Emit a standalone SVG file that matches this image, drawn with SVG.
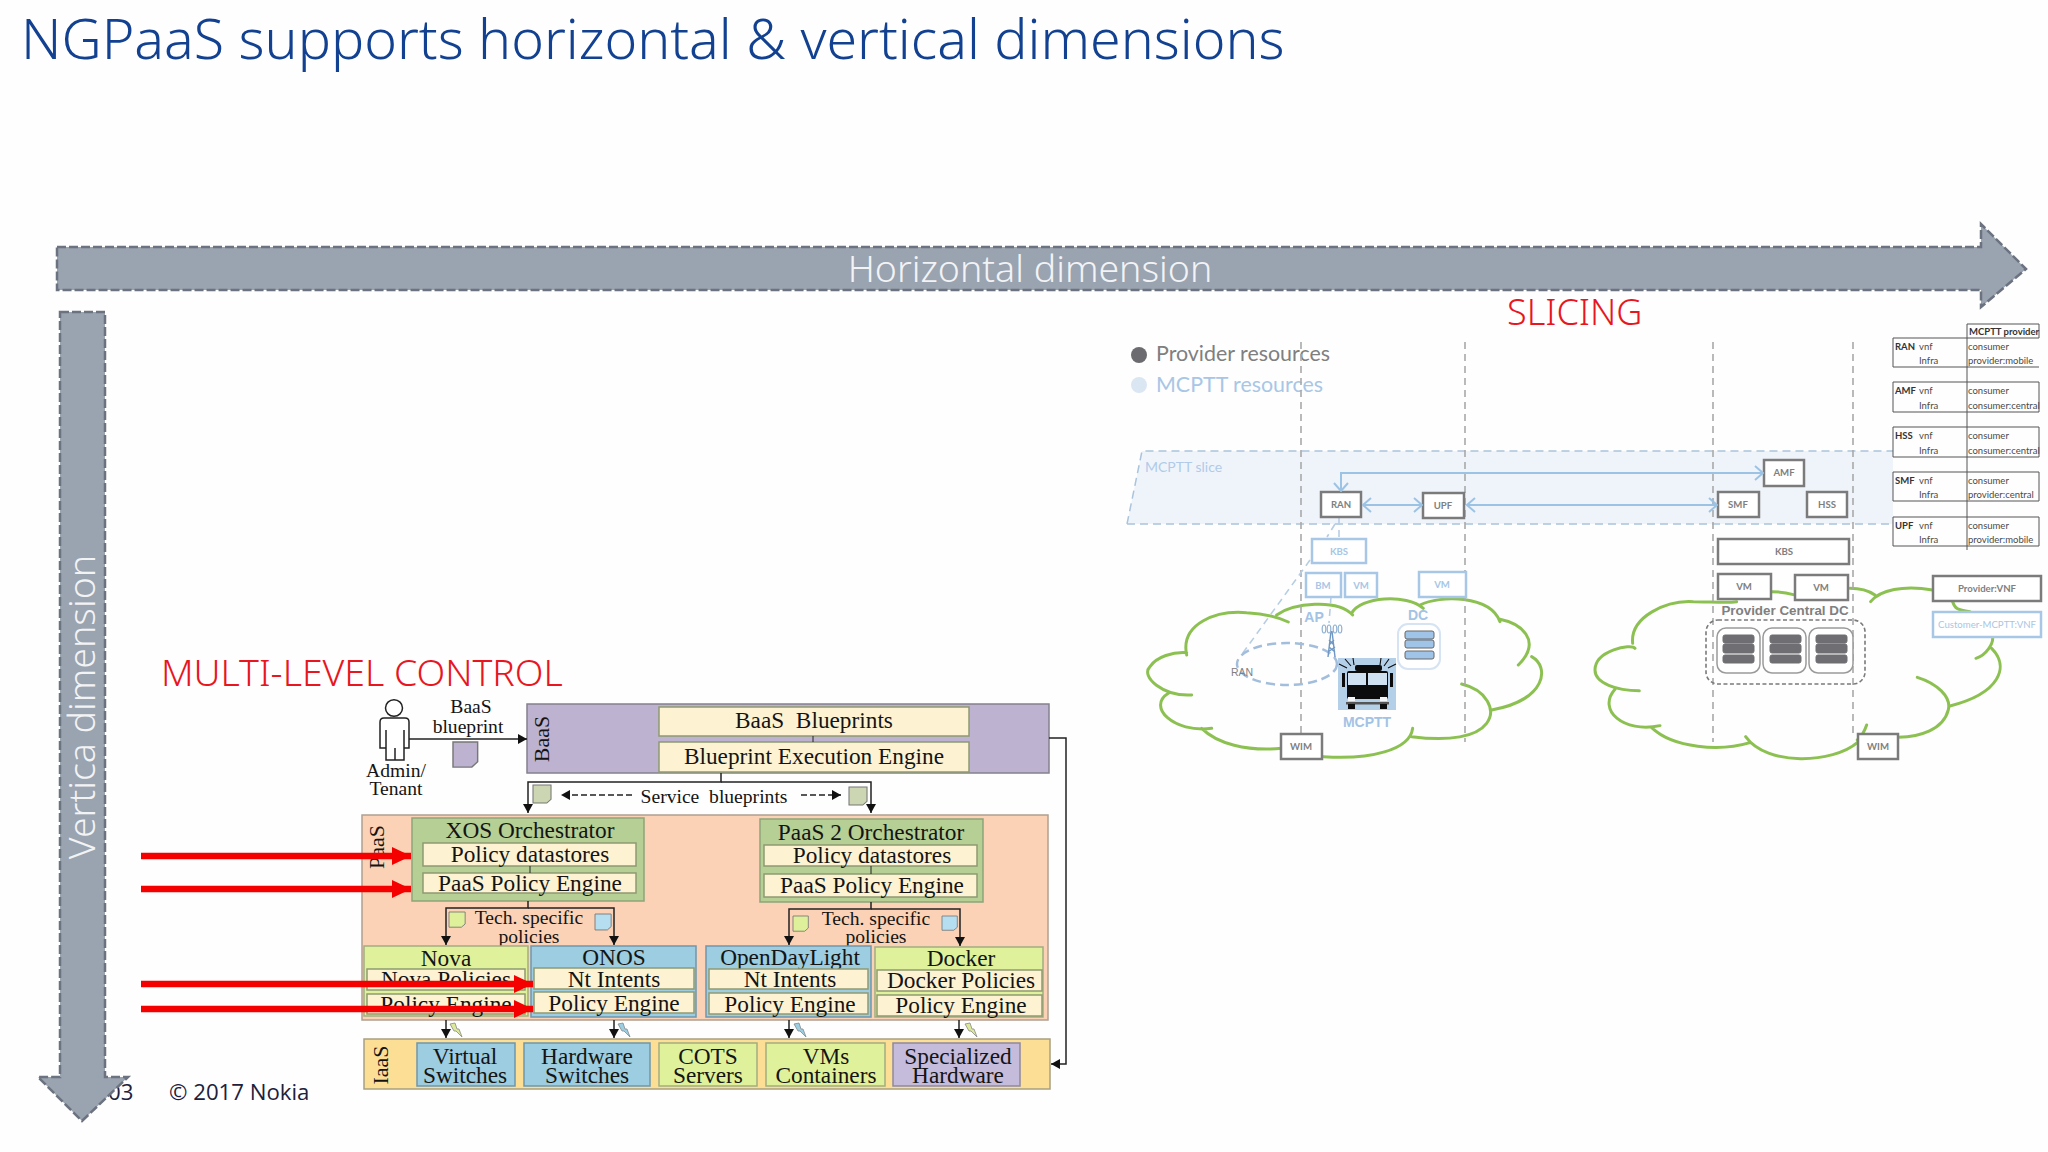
<svg xmlns="http://www.w3.org/2000/svg" width="2048" height="1152" viewBox="0 0 2048 1152">
<style>
text{white-space:pre}
.ser{font-family:"Liberation Serif","Times New Roman",serif;fill:#141414;text-anchor:middle}
.f23{font-size:23.3px}.f20{font-size:19.6px}.f22{font-size:22px}
.head{font-family:"Noto Sans","Open Sans",sans-serif;font-weight:300}
.dim{fill:#f2f3f5;font-size:37.5px;text-anchor:middle}
.red{fill:#e8161e}
.foot{font-family:"Open Sans","Noto Sans",sans-serif;font-size:22.2px;fill:#20203c}
.big{fill:#9aa3b0;stroke:#6b7280;stroke-width:2.5;stroke-dasharray:9 3}
.pur{fill:#bdb2cf;stroke:#85808f;stroke-width:1.5}
.cream{fill:#fdf3d3;stroke:#8f9a72;stroke-width:1.5}
.org{fill:#b5cf95;stroke:#8ea578;stroke-width:1.5}
.lime{fill:#dff29b;stroke:#a3ad80;stroke-width:1.5}
.blu{fill:#9ccde0;stroke:#6e96ad;stroke-width:1.5}
.vio{fill:#c5bcdc;stroke:#8d88a0;stroke-width:1.5}
.blk{fill:none;stroke:#222;stroke-width:1.5}
.doc{stroke:#777;stroke-width:1}
.gb{fill:#fff;stroke:#7b7b7b;stroke-width:2.5}
.bb{fill:#fff;stroke:#a8c7e6;stroke-width:2.5}
.gt{font-family:"Lato","Liberation Sans",sans-serif;font-weight:700;font-size:9.6px;fill:#808080;text-anchor:middle}
.bt{font-family:"Lato","Liberation Sans",sans-serif;font-weight:700;font-size:9.6px;fill:#a8c6e6;text-anchor:middle}
.lab{font-family:"Liberation Sans",Arial,sans-serif;font-weight:700;font-size:14px;text-anchor:middle}
.leg{font-family:"Lato","Liberation Sans",sans-serif;font-size:21.4px}
.tb{font-family:"Lato","Liberation Sans",sans-serif;font-size:9.5px;fill:#4a4a4a}
.tbb{font-weight:700;fill:#333}
.tl{stroke:#555;stroke-width:1;fill:none}
.guide{fill:none;stroke:#a9a9a9;stroke-width:1.6;stroke-dasharray:7 5}
.cloud{fill:none;stroke:#8cc152;stroke-width:9;stroke-linecap:round}
.ba{fill:none;stroke:#9cc3e4;stroke-width:2;marker-start:url(#op);marker-end:url(#op)}
.bar{fill:#6f6f73;stroke:#6f6f73}
.sbar{fill:#a0c4e8;stroke:#666;stroke-width:1}
</style>
<defs>
<marker id="ah" markerUnits="userSpaceOnUse" markerWidth="10" markerHeight="10" refX="9" refY="5" orient="auto"><path d="M0 0L9 5L0 10z" fill="#111"/></marker>
<marker id="op" markerUnits="userSpaceOnUse" markerWidth="12" markerHeight="16" refX="11" refY="8" orient="auto-start-reverse"><path d="M3 1L11 8L3 15" fill="none" stroke="#9cc3e4" stroke-width="2"/></marker>
<marker id="rd" markerUnits="userSpaceOnUse" markerWidth="20" markerHeight="18" refX="19" refY="9" orient="auto"><path d="M0 0L19 9L0 18z" fill="#f40000"/></marker>
<path id="doc" d="M0 0H17V15L13 19H0z"/>
<path id="bolt" d="M0 1L5 0L7 6L9 6L12 14L6 8L4 8z"/>
</defs>
<rect width="2048" height="1152" fill="#fefefe"/>

<text class="head" x="21" y="59" font-size="55.5" fill="#124191" id="title">NGPaaS supports horizontal &amp; vertical dimensions</text>
<text class="foot" x="108" y="1100">03</text>
<text class="foot" x="169" y="1100">© 2017 Nokia</text>

<g id="horizontal-dimension">
<path class="big" d="M57 247H1981V224L2026 269L1981 307V290H57z"/>
<text class="head dim" x="1030" y="282">Horizontal dimension</text>
</g>
<g id="vertical-dimension">
<path class="big" d="M60 312H105V1077H128L82 1121L38 1077H60z"/>
<text class="head dim" transform="translate(95 707) rotate(-90)">Vertica dimension</text>
</g>
<text class="head red" x="1507" y="325" font-size="36">SLICING</text>
<text class="head red" x="161" y="686" font-size="37.4">MULTI-LEVEL CONTROL</text>

<!-- slicing figure -->
<g id="legend">
<circle cx="1139" cy="355" r="8" fill="#6b6b70"/>
<text class="leg" x="1156" y="361" fill="#7f7f80">Provider resources</text>
<circle cx="1139" cy="385" r="8" fill="#dbe6f3"/>
<text class="leg" x="1156" y="392" fill="#a8c6e6">MCPTT resources</text>
</g>
<g id="mcptt-slice">
<path d="M1142 451H1893V524H1127z" fill="#eff4fb"/>
<path d="M1127 524L1142 451H1893M1127 524H1893" fill="none" stroke="#a9c4dc" stroke-width="1.5" stroke-dasharray="8 5"/>
<text x="1145" y="472" font-family="Lato,'Liberation Sans',sans-serif" font-size="14" fill="#b0cbe8">MCPTT slice</text>
</g>
<g id="cloud-left" transform="translate(1130 560) scale(.3333)">
<path class="cloud" d="M170 285C150 190 260 150 350 158C395 160 440 170 475 186M440 165C490 130 620 115 668 165M665 160C690 110 830 100 880 145M870 135C930 105 1080 105 1110 185M1110 178C1170 190 1240 240 1165 315M1205 290C1260 320 1250 420 1085 450M995 372C1070 390 1100 450 1070 490C1040 530 960 545 845 530M848 505C840 570 720 600 580 590M455 565C350 575 260 550 215 505M245 505C130 520 50 440 115 400M185 405C100 410 30 350 60 320C80 290 130 275 170 278"/>
</g>
<g id="cloud-right" transform="translate(1580 560) scale(.3333)">
<path class="cloud" d="M165 265C155 250 45 270 45 330C45 370 110 392 178 392M158 250C150 170 260 120 340 125C390 125 440 130 470 125M575 95C600 95 620 98 640 104M810 85C840 85 870 95 885 105M872 125C900 90 970 75 1058 90M1118 125C1125 145 1130 150 1170 155M1238 232C1240 250 1220 285 1188 295M1235 265C1290 320 1260 400 1110 438M1012 352C1070 370 1115 410 1105 450C1090 510 1020 530 955 532M860 495C855 510 850 525 832 540M832 548C760 610 560 620 497 530M510 548C420 575 280 565 215 503M240 497C130 520 50 450 105 388"/>
</g>
<g id="guides">
<path class="guide" d="M1301 342V733M1465 342V742M1713 342V742M1853 342V733"/>
<path class="guide" d="M1339 518V537M1335 524L1327 537M1310 560L1240 657M1331 597L1329 623" style="stroke:#b7cde4"/>
</g>

<g id="ran"><rect class="gb" x="1321" y="492" width="40" height="25"/><text class="gt" x="1341" y="508">RAN</text></g>
<g id="upf"><rect class="gb" x="1423" y="493" width="41" height="25"/><text class="gt" x="1443" y="509">UPF</text></g>
<g id="amf"><rect class="gb" x="1764" y="460" width="40" height="26"/><text class="gt" x="1784" y="476">AMF</text></g>
<g id="smf"><rect class="gb" x="1718" y="492" width="41" height="25"/><text class="gt" x="1738" y="508">SMF</text></g>
<g id="hss"><rect class="gb" x="1807" y="492" width="40" height="25"/><text class="gt" x="1827" y="508">HSS</text></g>
<g id="kbs-provider"><rect class="gb" x="1718" y="539" width="131" height="25"/><text class="gt" x="1784" y="555">KBS</text></g>
<g id="kbs-mcptt"><rect class="bb" x="1312" y="539" width="54" height="24"/><text class="bt" x="1339" y="555">KBS</text></g>
<g id="bm"><rect class="bb" x="1306" y="573" width="35" height="24"/><text class="bt" x="1323" y="589">BM</text></g>
<g id="vm-a"><rect class="bb" x="1345" y="573" width="32" height="24"/><text class="bt" x="1361" y="589">VM</text></g>
<g id="vm-b"><rect class="bb" x="1419" y="572" width="47" height="25"/><text class="bt" x="1442" y="588">VM</text></g>
<g id="vm-c"><rect class="gb" x="1718" y="574" width="53" height="25"/><text class="gt" x="1744" y="590">VM</text></g>
<g id="vm-d"><rect class="gb" x="1795" y="575" width="53" height="25"/><text class="gt" x="1821" y="591">VM</text></g>
<g id="wim-left"><rect class="gb" x="1281" y="734" width="41" height="25"/><text class="gt" x="1301" y="750">WIM</text></g>
<g id="wim-right"><rect class="gb" x="1858" y="734" width="40" height="25"/><text class="gt" x="1878" y="750">WIM</text></g>
<g id="provider-vnf"><rect class="gb" x="1933" y="576" width="108" height="25"/><text class="gt" x="1987" y="592">Provider:VNF</text></g>
<g id="customer-vnf"><rect class="bb" x="1933" y="612" width="108" height="25"/><text class="bt" x="1987" y="628" style="font-weight:400">Customer-MCPTT:VNF</text></g>

<g id="site-ap">
<text class="lab" x="1314" y="622" fill="#a3c3e5">AP</text>
<ellipse cx="1287" cy="664" rx="50" ry="21" fill="none" stroke="#a3bedd" stroke-width="2.5" stroke-dasharray="9 5"/>
<text x="1231" y="676" font-family="'Liberation Sans',sans-serif" font-size="10.5" fill="#808080">RAN</text>
<path d="M1331 631L1328 657M1332 631L1335 657M1329 640L1334 645M1334 640L1329 645M1329 647L1335 652M1335 647L1328 652" fill="none" stroke="#6f97c4" stroke-width="1.4"/>
<g fill="none" stroke="#8fb0d2" stroke-width="1.2"><ellipse cx="1324" cy="629" rx="1.8" ry="4"/><ellipse cx="1329" cy="629" rx="1.8" ry="4"/><ellipse cx="1335" cy="629" rx="1.8" ry="4"/><ellipse cx="1340" cy="629" rx="1.8" ry="4"/></g>
</g>
<g id="site-dc">
<text class="lab" x="1418" y="620" fill="#a3c3e5">DC</text>
<rect x="1398" y="624" width="42" height="45" rx="10" fill="#fff" stroke="#d5e3f3" stroke-width="2"/>
<rect class="sbar" x="1405" y="631" width="29" height="8" rx="2"/>
<rect class="sbar" x="1405" y="640" width="29" height="8" rx="2"/>
<rect class="sbar" x="1405" y="651" width="29" height="8" rx="2"/>
</g>
<g id="mcptt-truck">
<rect x="1338" y="658" width="58" height="52" fill="#b4cfe8"/>
<rect x="1347" y="671" width="41" height="28" rx="2" fill="#0c0c0c"/>
<rect x="1355" y="665" width="27" height="6" rx="2" fill="#0c0c0c"/>
<path d="M1342 673h3v14h-3zM1390 673h3v14h-3z" fill="#0c0c0c"/>
<path d="M1348 673H1366V685H1348zM1368 673H1387V685H1368z" fill="#cfe0f0"/>
<path d="M1348 697H1355V701H1348zM1380 697H1387V701H1380z" fill="#f4f6f8"/>
<rect x="1346" y="702" width="43" height="2.5" fill="#555"/>
<rect x="1348" y="704" width="7" height="5" fill="#0c0c0c"/><rect x="1380" y="704" width="7" height="5" fill="#0c0c0c"/>
<path d="M1339 664L1347 668M1345 659L1351 666M1353 658L1354 665M1381 658L1380 665M1389 659L1384 666M1396 664L1388 668" stroke="#0c0c0c" stroke-width="1.1"/>
<text class="lab" x="1367" y="727" fill="#a3c3e5">MCPTT</text>
</g>
<g id="provider-central-dc">
<text class="lab" style="font-size:13.4px" x="1785" y="615" fill="#808080">Provider Central DC</text>
<rect x="1706" y="620" width="159" height="64" rx="12" fill="none" stroke="#7a7a7a" stroke-width="1.6" stroke-dasharray="4 2.5"/>
<g fill="#fff" stroke="#9a9a9a" stroke-width="1.5">
<rect x="1717" y="628" width="43" height="45" rx="9"/><rect x="1763" y="628" width="43" height="45" rx="9"/><rect x="1809" y="628" width="44" height="45" rx="9"/>
</g>
<rect class="bar" x="1723" y="635" width="31" height="8" rx="2"/><rect class="bar" x="1723" y="644" width="31" height="9" rx="2"/><rect class="bar" x="1723" y="655" width="31" height="8" rx="2"/>
<rect class="bar" x="1770" y="635" width="31" height="8" rx="2"/><rect class="bar" x="1770" y="644" width="31" height="9" rx="2"/><rect class="bar" x="1770" y="655" width="31" height="8" rx="2"/>
<rect class="bar" x="1816" y="635" width="31" height="8" rx="2"/><rect class="bar" x="1816" y="644" width="31" height="9" rx="2"/><rect class="bar" x="1816" y="655" width="31" height="8" rx="2"/>
</g>

<g id="table">
<path class="tl" d="M1967 324H2039V338M1967 324V550M1893 338H2039M1893 338V367H2039M1893 382H2039V412H1893zM1893 427H2039V457H1893zM1893 472H2039V501H1893zM1893 517H2039V546H1893z"/>
<text class="tb tbb" x="1969" y="335">MCPTT provider</text>
<text class="tb tbb" x="1895" y="350">RAN</text><text class="tb" x="1919" y="350">vnf</text><text class="tb" x="1968" y="350">consumer</text>
<text class="tb" x="1919" y="364">Infra</text><text class="tb" x="1968" y="364">provider:mobile</text>
<text class="tb tbb" x="1895" y="394">AMF</text><text class="tb" x="1919" y="394">vnf</text><text class="tb" x="1968" y="394">consumer</text>
<text class="tb" x="1919" y="409">Infra</text><text class="tb" x="1968" y="409">consumer:central</text>
<text class="tb tbb" x="1895" y="439">HSS</text><text class="tb" x="1919" y="439">vnf</text><text class="tb" x="1968" y="439">consumer</text>
<text class="tb" x="1919" y="454">Infra</text><text class="tb" x="1968" y="454">consumer:central</text>
<text class="tb tbb" x="1895" y="484">SMF</text><text class="tb" x="1919" y="484">vnf</text><text class="tb" x="1968" y="484">consumer</text>
<text class="tb" x="1919" y="498">Infra</text><text class="tb" x="1968" y="498">provider:central</text>
<text class="tb tbb" x="1895" y="529">UPF</text><text class="tb" x="1919" y="529">vnf</text><text class="tb" x="1968" y="529">consumer</text>
<text class="tb" x="1919" y="543">Infra</text><text class="tb" x="1968" y="543">provider:mobile</text>
</g>

<!-- multi-level control figure -->
<g id="admin">
<ellipse cx="394" cy="708" rx="8.5" ry="8.3" fill="#fff" stroke="#222" stroke-width="1.5"/>
<path d="M384 718H405Q409 718 409 722V748H404V760H386V748H380V722Q380 718 384 718zM386 730V748M404 730V748M395 748V760" fill="#fff" stroke="#222" stroke-width="1.5"/>
<text class="ser f20" x="396" y="777">Admin/</text>
<text class="ser f20" x="396" y="795">Tenant</text>
</g>
<g id="baas-blueprint-label">
<text class="ser f20" x="471" y="713">BaaS</text>
<text class="ser f20" x="468" y="733">blueprint</text>
<use href="#doc" transform="translate(453 742) scale(1.45 1.32)" class="doc" fill="#bdb3d0"/>
</g>
<g id="baas">
<rect class="pur" x="527" y="704" width="522" height="69"/>
<text class="ser f22" transform="translate(549 739) rotate(-90)">BaaS</text>
<rect class="cream" x="659" y="707" width="310" height="29"/>
<text class="ser f23" x="814" y="728">BaaS  Blueprints</text>
<rect class="cream" x="659" y="742" width="310" height="30"/>
<text class="ser f23" x="814" y="764">Blueprint Execution Engine</text>
<path class="blk" style="stroke-width:1" d="M813 736V742"/>
</g>
<g id="service-blueprints">
<use href="#doc" transform="translate(533 785) scale(1.06 .95)" class="doc" fill="#cdd6b3"/>
<use href="#doc" transform="translate(849 787) scale(1.06 .95)" class="doc" fill="#cdd6b3"/>
<text class="ser f20" x="714" y="803">Service  blueprints</text>
</g>
<g id="paas">
<rect x="362" y="815" width="686" height="205" fill="#fbd2b5" stroke="#b0a090" stroke-width="1.5"/>
<text class="ser f22" transform="translate(384 847) rotate(-90)">PaaS</text>
</g>
<g id="xos-orchestrator">
<rect class="org" x="412" y="818" width="232" height="83"/>
<text class="ser f23" x="530" y="838">XOS Orchestrator</text>
<rect class="cream" x="423" y="843" width="213" height="23"/>
<text class="ser f23" x="530" y="862">Policy datastores</text>
<rect class="cream" x="423" y="873" width="213" height="20"/>
<text class="ser f23" x="530" y="891">PaaS Policy Engine</text>
<path class="blk" style="stroke-width:1" d="M530 866V873"/>
</g>
<g id="paas2-orchestrator">
<rect class="org" x="760" y="819" width="223" height="83"/>
<text class="ser f23" x="871" y="840">PaaS 2 Orchestrator</text>
<rect class="cream" x="764" y="845" width="213" height="21"/>
<text class="ser f23" x="872" y="863">Policy datastores</text>
<rect class="cream" x="764" y="874" width="213" height="23"/>
<text class="ser f23" x="872" y="893">PaaS Policy Engine</text>
<path class="blk" style="stroke-width:1" d="M871 866V874"/>
</g>
<g id="tech-policies-1">
<use href="#doc" transform="translate(449 912)  scale(.95 .8)" class="doc" fill="#dff09a"/>
<use href="#doc" transform="translate(595 914) scale(.95 .84)" class="doc" fill="#b5def0"/>
<text class="ser f20" x="529" y="924">Tech. specific</text>
<text class="ser f20" x="529" y="943">policies</text>
</g>
<g id="tech-policies-2">
<use href="#doc" transform="translate(793 916) scale(.9 .8)" class="doc" fill="#dff09a"/>
<use href="#doc" transform="translate(942 916) scale(.9 .75)" class="doc" fill="#b5def0"/>
<text class="ser f20" x="876" y="925">Tech. specific</text>
<text class="ser f20" x="876" y="943">policies</text>
</g>
<g id="nova">
<rect class="lime" x="364" y="946" width="164" height="70"/>
<text class="ser f23" x="446" y="966">Nova</text>
<rect class="cream" x="367" y="969" width="158" height="21"/>
<text class="ser f23" x="446" y="987">Nova Policies</text>
<rect class="cream" x="367" y="994" width="158" height="20"/>
<text class="ser f23" x="446" y="1012">Policy Engine</text>
</g>
<g id="onos">
<rect class="blu" x="531" y="946" width="165" height="71"/>
<text class="ser f23" x="614" y="965">ONOS</text>
<rect class="cream" x="534" y="968" width="160" height="21"/>
<text class="ser f23" x="614" y="987">Nt Intents</text>
<rect class="cream" x="534" y="992" width="160" height="21"/>
<text class="ser f23" x="614" y="1011">Policy Engine</text>
</g>
<g id="opendaylight">
<rect class="blu" x="706" y="946" width="165" height="71"/>
<text class="ser f23" x="790" y="965">OpenDayLight</text>
<rect class="cream" x="709" y="969" width="159" height="20"/>
<text class="ser f23" x="790" y="987">Nt Intents</text>
<rect class="cream" x="709" y="993" width="159" height="21"/>
<text class="ser f23" x="790" y="1012">Policy Engine</text>
</g>
<g id="docker">
<rect class="lime" x="875" y="947" width="168" height="70"/>
<text class="ser f23" x="961" y="966">Docker</text>
<rect class="cream" x="877" y="970" width="165" height="21"/>
<text class="ser f23" x="961" y="988">Docker Policies</text>
<rect class="cream" x="877" y="995" width="165" height="21"/>
<text class="ser f23" x="961" y="1013">Policy Engine</text>
</g>
<g id="iaas">
<rect x="364" y="1039" width="686" height="50" fill="#fcdf94" stroke="#a8a080" stroke-width="1.5"/>
<text class="ser f22" transform="translate(388 1065) rotate(-90)">IaaS</text>
</g>
<g id="virtual-switches"><rect class="blu" x="417" y="1043" width="98" height="43"/><text class="ser f23" x="465" y="1064">Virtual</text><text class="ser f23" x="465" y="1083">Switches</text></g>
<g id="hardware-switches"><rect class="blu" x="524" y="1043" width="126" height="43"/><text class="ser f23" x="587" y="1064">Hardware</text><text class="ser f23" x="587" y="1083">Switches</text></g>
<g id="cots-servers"><rect class="lime" x="659" y="1043" width="98" height="43"/><text class="ser f23" x="708" y="1064">COTS</text><text class="ser f23" x="708" y="1083">Servers</text></g>
<g id="vms-containers"><rect class="lime" x="766" y="1043" width="119" height="43"/><text class="ser f23" x="826" y="1064">VMs</text><text class="ser f23" x="826" y="1083">Containers</text></g>
<g id="specialized-hardware"><rect class="vio" x="893" y="1043" width="127" height="43"/><text class="ser f23" x="958" y="1064">Specialized</text><text class="ser f23" x="958" y="1083">Hardware</text></g>
<g id="bolts">
<use href="#bolt" x="450" y="1023" fill="#dde89a" stroke="#888" stroke-width=".8"/>
<use href="#bolt" x="618" y="1023" fill="#9ccde0" stroke="#888" stroke-width=".8"/>
<use href="#bolt" x="794" y="1023" fill="#9ccde0" stroke="#888" stroke-width=".8"/>
<use href="#bolt" x="965" y="1023" fill="#dde89a" stroke="#888" stroke-width=".8"/>
</g>

<g id="connectors">
<path class="ba" d="M1341 491V473H1763"/>
<path class="ba" d="M1363 505H1422"/>
<path class="ba" d="M1467 505H1717"/>
<path class="blk" marker-end="url(#ah)" d="M409 739H527"/>
<path class="blk" marker-end="url(#ah)" d="M721 773V782H528V813"/>
<path class="blk" marker-end="url(#ah)" d="M721 782H871V813"/>
<path class="blk" style="stroke-dasharray:6 3" marker-end="url(#ah)" d="M632 795H561"/>
<path class="blk" style="stroke-dasharray:6 3" marker-end="url(#ah)" d="M801 795H841"/>
<path class="blk" marker-end="url(#ah)" d="M528 901V908H446V945"/>
<path class="blk" marker-end="url(#ah)" d="M528 908H614V945"/>
<path class="blk" marker-end="url(#ah)" d="M871 902V909H789V945"/>
<path class="blk" marker-end="url(#ah)" d="M871 909H960V946"/>
<path class="blk" marker-end="url(#ah)" d="M446 1020V1038"/>
<path class="blk" marker-end="url(#ah)" d="M614 1020V1038"/>
<path class="blk" marker-end="url(#ah)" d="M789 1020V1038"/>
<path class="blk" marker-end="url(#ah)" d="M959 1020V1038"/>
<path class="blk" marker-end="url(#ah)" d="M1049 738H1066V1064H1051"/>
<g fill="none" stroke="#f40000" stroke-width="6.5">
<path marker-end="url(#rd)" d="M141 856H411"/>
<path marker-end="url(#rd)" d="M141 889H411"/>
<path marker-end="url(#rd)" d="M141 984H533"/>
<path marker-end="url(#rd)" d="M141 1009H533"/>
</g>
</g>
</svg>
